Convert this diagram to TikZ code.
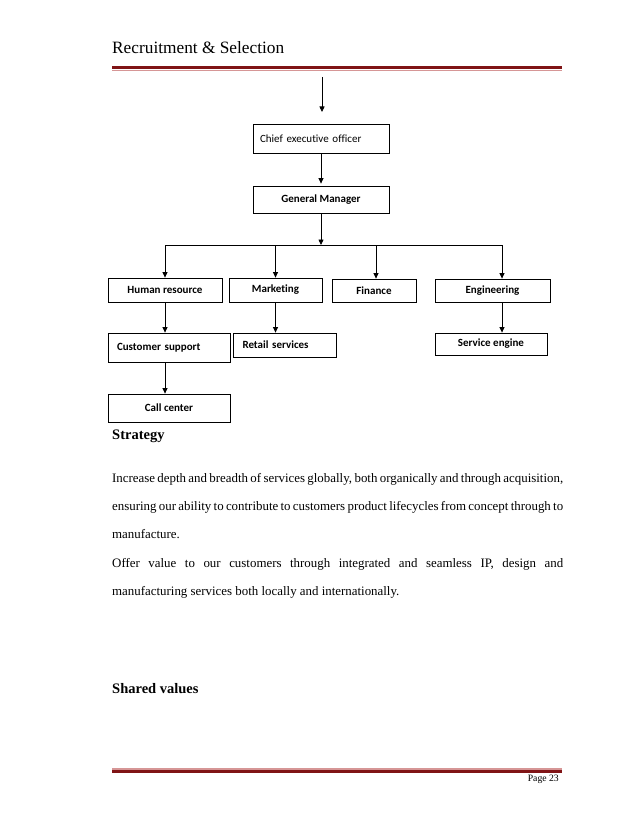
\documentclass[tikz,border=0pt]{standalone}
\usepackage{fontspec}
\setmainfont{Liberation Serif}
\newfontfamily\boxfont[Ligatures={NoCommon,NoContextual}]{Carlito}
\usetikzlibrary{arrows.meta}
\definecolor{hdrdark}{RGB}{128,20,22}
\definecolor{hdrlight}{RGB}{214,150,150}
\tikzset{
  box/.style={draw, line width=0.8pt, inner sep=0pt, font=\boxfont\bfseries\fontsize{11}{13}\selectfont},
  plainbox/.style={box, font=\boxfont\fontsize{11}{13}\selectfont},
  arr/.style={-{Triangle[length=5.5pt,width=5pt]}, line width=0.8pt},
  wire/.style={line width=0.8pt},
  body/.style={anchor=north west, inner sep=0pt, text width=451pt, align=justify, font=\fontsize{12.9}{28}\selectfont},
  heading/.style={anchor=base west, inner sep=0pt, font=\bfseries\fontsize{14.5}{17}\selectfont}
}
\begin{document}
\begin{tikzpicture}[x=1pt,y=-1pt]
\useasboundingbox (0,0) rectangle (638,826);
% header
\node[anchor=base west, inner sep=0pt, font=\fontsize{17.3}{20}\selectfont] (title) at (112,54) {Recruitment \& Selection};
\draw[hdrdark, line width=3pt] (112,67.3) -- (562,67.3);
\draw[hdrlight, line width=1.2pt] (112,70.2) -- (562,70.2);
% footer
\draw[hdrlight, line width=1.2pt] (112,769) -- (562,769);
\draw[hdrdark, line width=3pt] (112,771.8) -- (562,771.8);
\node[anchor=base east, inner sep=0pt, font=\fontsize{9.7}{11}\selectfont] (page) at (559,781) {Page 23};

% chart
\coordinate (top) at (322,77);
\coordinate (toptip) at (322,112);
\draw[arr] (top) -- (toptip);
\node[plainbox, minimum width=136pt, minimum height=29pt, text width=122pt, align=left] (ceo) at (321,138.5) {Chief executive officer};
\node[box, minimum width=136pt, minimum height=27pt] (gm) at (321,199.5) {\raisebox{1.5pt}{General Manager}};
\node[box, minimum width=114pt, minimum height=24pt] (hr) at (165,290) {Human resource};
\node[box, minimum width=93pt, minimum height=24pt] (mkt) at (275.5,290) {Marketing};
\node[box, minimum width=84pt, minimum height=23pt] (fin) at (374,290.5) {Finance};
\node[box, minimum width=115pt, minimum height=23pt] (eng) at (492.5,290.5) {Engineering};
\node[box, minimum width=122pt, minimum height=29pt, text width=104pt, align=left] (cs) at (169,347.5) {\raisebox{1.5pt}{Customer support}};
\node[box, minimum width=103pt, minimum height=24pt, text width=84pt, align=left] (rs) at (284.5,345) {Retail services};
\node[box, minimum width=112pt, minimum height=22pt] (se) at (491,344) {Service engine};
\node[box, minimum width=122pt, minimum height=28pt] (cc) at (169,408) {Call center};

\coordinate (bus) at (321,245);
\coordinate (busL) at (165,245);
\coordinate (busR) at (502,245);
\coordinate (busF) at (376,245);
\coordinate (busM) at (275.5,245);
\draw[arr, shorten >=2pt] (ceo.south) -- (gm.north);
\draw[arr] (gm.south) -- (bus);
\draw[wire] (busL) -- (busR);
\draw[arr] (busL) -- (busL |- hr.north);
\draw[arr] (busM) -- (mkt.north);
\draw[arr] (busF) -- (busF |- fin.north);
\draw[arr] (busR) -- (busR |- eng.north);
\draw[arr] (hr.south) -- (hr.south |- cs.north);
\draw[arr] (mkt.south) -- (mkt.south |- rs.north);
\draw[arr] (eng.south -| busR) -- (se.north -| busR);
\draw[arr] (cs.south -| hr.south) -- (cc.north -| hr.south);

% text
\node[heading] (strat) at (112,439) {Strategy};
\node[body] (p1) at (112,473.5) {Increase depth and breadth of services globally, both organically and through acquisition,\linebreak ensuring our ability to contribute to customers product lifecycles from concept through to\linebreak manufacture.};
\node[body] (p2) at (112,558.5) {Offer value to our customers through integrated and seamless IP, design and\linebreak manufacturing services both locally and internationally.};
\node[heading] (shared) at (112,693) {Shared values};
\end{tikzpicture}
\end{document}
